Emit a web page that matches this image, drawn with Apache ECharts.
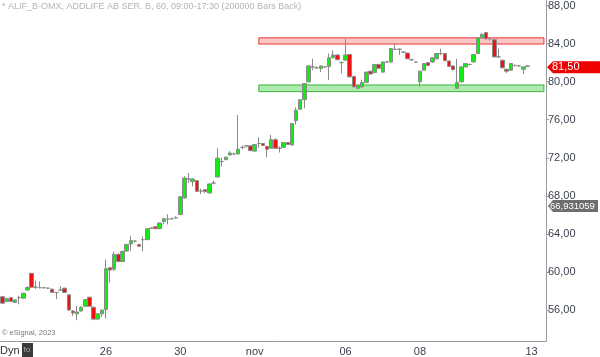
<!DOCTYPE html>
<html><head><meta charset="utf-8">
<script src="https://cdn.jsdelivr.net/npm/echarts@6/dist/echarts.min.js"></script>
<style>html,body{margin:0;padding:0;background:#fff}#c{width:600px;height:357px}</style>
</head><body><div id="c"></div>
<script>
var titleText = '* ALIF_B-OMX, ADDLIFE AB SER. B, 60, 09:00-17:30 (200000 Bars Back)';
var tickLabels = {25:'26', 43:'30', 61:'nov', 83:'06', 101:'08', 128:'13'};
var categoryCount = 132;
var yTicks = [56, 60, 64, 68, 72, 76, 80, 84, 88];
var openVals = [57.4,56.9,57.3,56.8,57.3,57.25,58.1,59.86,58.4,58.35,58.35,58.3,58.2,57.85,58.1,58.3,57.6,55.9,55.6,55.9,
56.4,57.35,56.3,55.05,55.6,56.05,60.45,60.3,61.85,61.1,62.2,62.95,63.25,62.9,63.4,63.4,64.6,64.75,64.55,65.3,
65.55,65.6,65.7,66.05,67.78,69.77,69.5,69.6,68.5,68.65,68.3,69.35,69.98,71.6,71.8,72.3,72.4,72.4,73.1,73.25,
73.25,72.7,73.5,73.5,73.2,73.0,73.9,73.0,73.1,73.6,73.35,75.9,77.1,78.1,79.98,81.55,81.45,81.4,81.55,81.6,
82.5,82.8,82.0,82.25,82.85,80.55,79.3,79.45,79.9,81.1,80.95,81.8,81.0,82.07,82.07,83.4,83.4,83.1,83.0,82.3,
82.05,79.98,81.2,82.0,82.07,82.4,82.95,82.95,82.17,81.65,79.3,79.98,81.55,81.8,82.07,82.95,84.6,85.15,84.5,84.4,
82.6,82.25,81.3,81.2,81.7,81.65,81.3,81.65];
var closeVals = [56.72,57.2,56.9,57.07,57.3,57.77,58.37,58.4,58.4,58.35,58.35,58.3,57.85,57.85,58.1,57.85,56.0,55.7,55.8,56.3,
57.1,56.4,55.05,55.6,56.0,60.35,60.2,61.85,61.1,62.15,62.9,63.3,63.25,62.7,63.4,64.55,64.6,64.55,65.15,65.6,
65.55,65.6,65.7,67.9,69.87,69.77,69.77,68.47,68.5,68.45,69.25,69.35,71.96,71.6,72.07,72.5,72.4,72.9,73.1,73.25,
72.75,73.4,73.5,73.3,72.9,73.9,73.0,73.0,73.6,73.4,75.6,77.0,78.1,79.8,81.65,81.55,81.45,81.65,81.55,82.5,
82.8,82.3,82.0,82.8,80.5,79.45,79.6,79.9,81.0,80.8,81.8,81.4,82.07,82.07,83.47,83.4,83.4,83.1,82.4,82.3,
82.05,81.1,81.9,81.7,82.5,82.95,82.95,82.2,81.6,81.25,79.9,81.55,81.9,81.8,82.85,84.6,84.95,84.5,84.5,82.6,
82.6,81.45,81.1,81.9,81.7,81.65,81.55,81.6];
var lowVals = [56.7,56.85,56.85,56.75,56.6,57.2,58.05,58.35,58.2,58.3,58.25,58.2,57.8,57.15,58.0,57.8,55.9,55.4,54.95,55.85,
56.35,56.35,54.95,55.0,55.3,55.1,58.9,60.1,61.0,61.05,62.15,62.2,63.1,62.65,62.2,63.35,64.5,64.5,64.5,65.0,
65.0,65.5,65.6,66.0,67.7,69.35,69.0,68.4,68.2,68.3,68.25,69.2,69.95,71.1,71.75,72.2,72.35,72.35,72.9,73.1,
72.7,72.65,73.05,73.25,72.05,72.95,72.95,72.55,73.05,73.35,73.3,75.5,77.05,77.2,79.9,81.2,81.35,81.0,81.45,80.15,
82.45,82.25,80.85,82.2,80.45,79.4,79.25,79.4,79.85,80.75,80.9,81.35,80.95,82.0,82.0,83.3,82.8,83.0,82.35,82.2,
81.95,79.5,81.15,81.65,82.0,82.35,82.8,82.15,81.55,81.2,79.25,79.9,81.5,81.7,82.0,82.9,84.55,84.45,84.3,82.55,
82.55,81.4,80.9,81.15,81.6,81.55,80.8,81.55];
var highVals = [57.5,57.3,57.35,57.1,57.5,57.8,58.5,59.9,59.1,59.0,58.45,58.35,58.25,57.9,58.5,58.35,57.65,56.0,56.45,56.4,
57.15,57.4,56.35,55.7,56.05,61.3,60.5,62.1,61.95,62.25,62.95,63.8,63.3,62.95,63.75,64.6,64.7,64.8,65.2,65.7,
66.05,65.7,65.85,67.95,70.05,70.4,69.85,69.65,68.75,68.7,69.3,69.6,73.0,72.0,72.1,72.7,72.55,76.5,73.3,73.35,
73.3,73.45,74.15,73.55,73.25,74.4,74.05,73.2,73.65,73.65,75.65,77.3,78.15,79.85,81.7,82.4,81.6,81.7,81.65,82.95,
83.3,82.85,82.15,84.5,82.9,80.6,79.65,80.2,81.05,81.15,81.85,81.85,82.1,82.15,83.5,84.0,83.5,83.2,83.05,82.4,
82.1,81.15,81.95,82.05,82.55,83.0,83.47,83.0,82.2,81.7,82.4,81.6,81.95,81.9,82.9,84.65,85.1,85.2,84.6,84.45,
83.47,82.3,81.35,81.95,81.8,81.75,81.6,81.7];
var resistanceZone = [83.95, 84.6];
var supportZone = [78.95, 79.65];
var zoneStartIndex = 62;
var lastPrice = 81.50;
var indicatorValue = 66.931059;

var cats = [];
for (var i = 0; i < categoryCount; i++) cats.push(tickLabels[i] || '');
var candles = [];
for (var j = 0; j < openVals.length; j++) candles.push([openVals[j], closeVals[j], lowVals[j], highVals[j]]);
function fmt(v){ return v.toFixed(2).replace('.', ','); }
var showFn = function(idx, val){ return val !== ''; };

var chart = echarts.init(document.getElementById('c'));
chart.setOption({
  animation: false,
  backgroundColor: '#ffffff',
  textStyle: {fontFamily: 'Liberation Sans, Arial, sans-serif'},
  grid: {left: 0.6, right: 54, top: 0, bottom: 15, containLabel: false},
  xAxis: {
    type: 'category', data: cats, boundaryGap: true,
    axisLine: {lineStyle: {color: '#9a9a9a', width: 1}},
    axisTick: {interval: showFn, alignWithLabel: true, length: 3, lineStyle: {color: '#9a9a9a'}},
    axisLabel: {interval: showFn, color: '#3a3f4c', fontSize: 11, margin: 5},
    splitLine: {show: false}
  },
  yAxis: {
    type: 'value', position: 'right', min: 52.75, max: 88.52, scale: true,
    axisLine: {show: true, lineStyle: {color: '#9a9a9a', width: 1}},
    axisTick: {show: true, length: 3, customValues: yTicks, lineStyle: {color: '#9a9a9a'}},
    axisLabel: {customValues: yTicks, formatter: fmt, color: '#3a3f4c', fontSize: 11, margin: 2},
    splitLine: {show: false}
  },
  series: [{
    type: 'candlestick', data: candles, barWidth: 4,
    itemStyle: {color: '#12ec12', color0: '#ee1111', borderColor: '#8a8a8a', borderColor0: '#8a8a8a', borderColorDoji: '#8a8a8a', borderWidth: 1},
    markArea: {
      silent: true,
      data: [
        [{xAxis: zoneStartIndex, yAxis: resistanceZone[1], itemStyle: {color: 'rgba(246,160,160,0.6)', borderColor: '#e33', borderWidth: 1}}, {xAxis: categoryCount - 1, yAxis: resistanceZone[0]}],
        [{xAxis: zoneStartIndex, yAxis: supportZone[1], itemStyle: {color: 'rgba(120,220,120,0.6)', borderColor: '#3bb33b', borderWidth: 1}}, {xAxis: categoryCount - 1, yAxis: supportZone[0]}]
      ]
    }
  }]
});

var yLast = chart.convertToPixel({yAxisIndex: 0}, lastPrice);
var yInd = chart.convertToPixel({yAxisIndex: 0}, indicatorValue);
var ax = 547;
chart.setOption({
  graphic: [
    {type: 'text', left: 2, top: 2, style: {text: titleText, fill: '#b4b4b4', fontSize: 9, fontFamily: 'Liberation Sans, Arial'}},
    {type: 'text', left: 2, top: 329, style: {text: '\u00a9 eSignal, 2023', fill: '#777', fontSize: 7.5, fontFamily: 'Liberation Sans, Arial'}},
    {type: 'text', left: 0, top: 345, style: {text: 'Dyn', fill: '#333', fontSize: 11, fontFamily: 'Liberation Sans, Arial'}},
    {type: 'rect', shape: {x: 22, y: 343, width: 11, height: 14}, style: {fill: '#3a3a3a'}},
    {type: 'text', left: 23.5, top: 346, style: {text: 'fo', fill: '#aaa', fontSize: 8, fontFamily: 'Liberation Sans, Arial'}},
    {type: 'polygon', shape: {points: [[ax, yLast], [ax + 6, yLast - 6], [600, yLast - 6], [600, yLast + 6], [ax + 6, yLast + 6]]}, style: {fill: '#f00000'}},
    {type: 'text', x: 552, y: yLast, style: {text: fmt(lastPrice), fill: '#fff', fontSize: 11, textVerticalAlign: 'middle', fontFamily: 'Liberation Sans, Arial'}},
    {type: 'polygon', shape: {points: [[ax + 1, yInd], [ax + 6, yInd - 6], [598, yInd - 6], [598, yInd + 6], [ax + 6, yInd + 6]]}, style: {fill: '#6e6e6e'}},
    {type: 'text', x: 550, y: yInd, style: {text: String(indicatorValue).replace('.', ','), fill: '#fff', fontSize: 9.5, textVerticalAlign: 'middle', fontFamily: 'Liberation Sans, Arial'}}
  ]
});
</script></body></html>
